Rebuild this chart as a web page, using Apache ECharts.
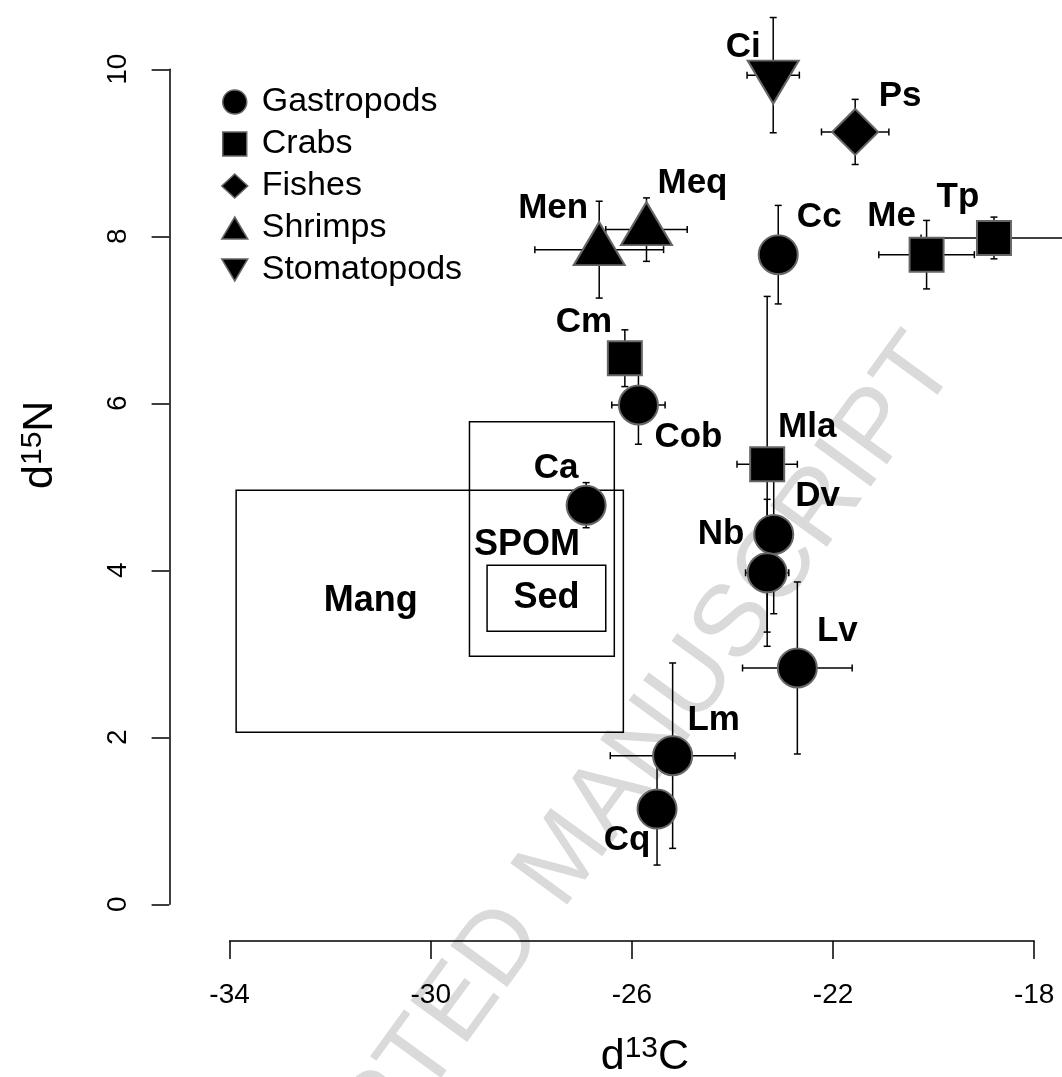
<!DOCTYPE html>
<html><head><meta charset="utf-8">
<script src="https://cdn.jsdelivr.net/npm/echarts@6/dist/echarts.min.js"></script>
<style>html,body{margin:0;padding:0;background:#fff}#c{width:1062px;height:1077px}</style>
</head><body><div id="c"></div>
<script>
// ---------- data ----------
const groups = ['Gastropods', 'Crabs', 'Fishes', 'Shrimps', 'Stomatopods'];
const taxa = ['Ci', 'Ps', 'Cc', 'Me', 'Tp', 'Men', 'Meq', 'Cm', 'Cob', 'Mla', 'Dv', 'Nb', 'Lv', 'Lm', 'Cq', 'Ca'];
const taxonGroup = ['Stomatopods', 'Fishes', 'Gastropods', 'Crabs', 'Crabs', 'Shrimps', 'Shrimps', 'Crabs',
  'Gastropods', 'Crabs', 'Gastropods', 'Gastropods', 'Gastropods', 'Gastropods', 'Gastropods', 'Gastropods'];
const d13C = [-23.19, -21.56, -23.09, -20.14, -18.80, -26.65, -25.71, -26.14, -25.87, -23.31, -23.18, -23.31, -22.71, -25.19, -25.50, -26.91];
const d15N = [9.93, 9.25, 7.78, 7.78, 7.98, 7.84, 8.08, 6.54, 5.98, 5.27, 4.43, 3.97, 2.83, 1.78, 1.14, 4.78];
const sdC  = [0.52, 0.67, 0.25, 0.95, 1.45, 1.28, 0.81, 0.25, 0.53, 0.60, 0.25, 0.43, 1.09, 1.24, 0.20, 0.20];
const sdN  = [0.69, 0.39, 0.59, 0.41, 0.25, 0.58, 0.38, 0.34, 0.47, 2.01, 0.95, 0.88, 1.03, 1.11, 0.67, 0.27];

const sources = ['Mang', 'SPOM', 'Sed'];
const srcCmin = [-33.87, -29.23, -28.88];
const srcCmax = [-26.17, -26.35, -26.52];
const srcNmin = [2.06, 2.97, 3.27];
const srcNmax = [4.96, 5.78, 4.06];

const xTicks = [-34, -30, -26, -22, -18];
const yTicks = [0, 2, 4, 6, 8, 10];

// ---------- styling / layout (not data) ----------
const FONT = '"Liberation Sans", Arial, Helvetica, sans-serif';
const symbolStyle = {
  Gastropods: { symbol: 'circle', symbolSize: 39 },
  Crabs: { symbol: 'rect', symbolSize: 34 },
  Fishes: { symbol: 'diamond', symbolSize: [46, 46] },
  Shrimps: { symbol: 'triangle', symbolSize: [51, 43], symbolOffset: [0, -6] },
  Stomatopods: { symbol: 'triangle', symbolSize: [51, 43], symbolRotate: 180, symbolOffset: [0, 7] }
};
const legendIcon = {
  Gastropods: 'circle',
  Crabs: 'path://M0,0L18,0L18,18L0,18Z',
  Fishes: 'diamond',
  Shrimps: 'path://M13,0L26,22L0,22Z',
  Stomatopods: 'path://M0,0L26,0L13,22Z'
};
const labelOffset = {
  Ci: [-30, -35], Ps: [45, -36], Cc: [41, -37], Me: [-35, -38], Tp: [-36, -41],
  Men: [-46, -35], Meq: [46, -40], Cm: [-41, -36], Cob: [50, 32], Mla: [40, -37],
  Dv: [44, -38], Nb: [-46, -38], Lv: [40, -37], Lm: [41, -35], Cq: [-30, 31], Ca: [-30, -37]
};
const sourceLabelOffset = { Mang: [-59, -10], SPOM: [-15, 6], Sed: [0, 0] };

// ---------- build ----------
const errData = taxa.map((t, i) => [d13C[i], d15N[i], sdC[i], sdN[i]]);
const boxData = sources.map((s, i) => [srcCmin[i], srcCmax[i], srcNmin[i], srcNmax[i]]);

function renderErr(params, api) {
  const x = api.value(0), y = api.value(1), sx = api.value(2), sy = api.value(3);
  const c = api.coord([x, y]);
  const l = api.coord([x - sx, y]), r = api.coord([x + sx, y]);
  const t = api.coord([x, y + sy]), b = api.coord([x, y - sy]);
  const cap = 3.5;
  const st = { stroke: '#000', lineWidth: 1.5 };
  const ln = (x1, y1, x2, y2) => ({ type: 'line', shape: { x1, y1, x2, y2 }, style: st });
  return {
    type: 'group', children: [
      ln(l[0], c[1], r[0], c[1]),
      ln(l[0], c[1] - cap, l[0], c[1] + cap),
      ln(r[0], c[1] - cap, r[0], c[1] + cap),
      ln(c[0], t[1], c[0], b[1]),
      ln(c[0] - cap, t[1], c[0] + cap, t[1]),
      ln(c[0] - cap, b[1], c[0] + cap, b[1])
    ]
  };
}

function renderBox(params, api) {
  const p1 = api.coord([api.value(0), api.value(3)]);
  const p2 = api.coord([api.value(1), api.value(2)]);
  const name = sources[params.dataIndex];
  const off = sourceLabelOffset[name];
  return {
    type: 'group', children: [
      { type: 'rect', shape: { x: p1[0], y: p1[1], width: p2[0] - p1[0], height: p2[1] - p1[1] },
        style: { fill: 'none', stroke: '#000', lineWidth: 1.5 } },
      { type: 'text', x: (p1[0] + p2[0]) / 2 + off[0], y: (p1[1] + p2[1]) / 2 + off[1],
        style: { text: name, fill: '#000', font: 'bold 36px ' + FONT,
          align: 'center', verticalAlign: 'middle', textAlign: 'center', textVerticalAlign: 'middle' } }
    ]
  };
}

const scatterSeries = groups.map(g => {
  const data = [];
  taxa.forEach((t, i) => {
    if (taxonGroup[i] === g) {
      data.push({ name: t, value: [d13C[i], d15N[i]], label: { offset: labelOffset[t] } });
    }
  });
  return Object.assign({
    name: g, type: 'scatter', z: 3, clip: false, data: data,
    itemStyle: { color: '#000', borderColor: '#666', borderWidth: 2, opacity: 1 },
    label: { show: true, position: 'inside', formatter: '{b}', color: '#000',
      fontSize: 35, fontWeight: 'bold', fontFamily: FONT },
    emphasis: { disabled: true }
  }, symbolStyle[g]);
});

const chart = echarts.init(document.getElementById('c'), null, { renderer: 'canvas' });
chart.setOption({
  animation: false,
  backgroundColor: '#fff',
  textStyle: { fontFamily: FONT },
  graphic: {
    elements: [{
      type: 'text', x: 566, y: 858, rotation: 54 * Math.PI / 180, z: -10, silent: true,
      style: { text: 'ACCEPTED MANUSCRIPT', fill: '#dadada', font: '102px ' + FONT,
        align: 'center', verticalAlign: 'middle', textAlign: 'center', textVerticalAlign: 'middle' }
    }]
  },
  grid: { left: 229.6, right: 27.8, top: 69.3, bottom: 172.7, outerBoundsMode: 'none' },
  legend: {
    orient: 'vertical', left: 216, top: 80,
    itemWidth: 26, itemHeight: 24, itemGap: 8,
    data: groups.map(g => ({ name: g, icon: legendIcon[g] })),
    itemStyle: { color: '#000', borderColor: '#666', borderWidth: 1.5 },
    textStyle: { fontSize: 34, lineHeight: 34, color: '#000', fontFamily: FONT, padding: [0, 0, 0, 9] },
    selectedMode: false
  },
  xAxis: {
    type: 'value', min: xTicks[0], max: xTicks[xTicks.length - 1], interval: 4,
    offset: 36.7,
    name: '{a|d}{s|13}{a|C}', nameLocation: 'middle', nameGap: 93,
    nameTextStyle: { padding: [0, 0, 0, 26], rich: {
      a: { fontSize: 43, lineHeight: 46, color: '#000', fontFamily: FONT },
      s: { fontSize: 30, lineHeight: 36, verticalAlign: 'top', color: '#000', fontFamily: FONT } } },
    axisLine: { show: true, onZero: false, lineStyle: { color: '#000', width: 1.5 } },
    axisTick: { show: true, length: 18, lineStyle: { color: '#000', width: 1.5 } },
    axisLabel: { fontSize: 28, color: '#000', margin: 40, fontFamily: FONT },
    splitLine: { show: false }
  },
  yAxis: {
    type: 'value', min: yTicks[0], max: yTicks[yTicks.length - 1], interval: 2,
    offset: 60.3,
    name: '{a|d}{s|15}{a|N}', nameLocation: 'middle', nameGap: 106, nameRotate: 90,
    nameTextStyle: { padding: [0, 0, 0, 84], rich: {
      a: { fontSize: 43, lineHeight: 46, color: '#000', fontFamily: FONT },
      s: { fontSize: 30, lineHeight: 36, verticalAlign: 'top', color: '#000', fontFamily: FONT } } },
    axisLine: { show: true, onZero: false, lineStyle: { color: '#000', width: 1.5 } },
    axisTick: { show: true, length: 17.7, lineStyle: { color: '#000', width: 1.5 } },
    axisLabel: { fontSize: 28, color: '#000', margin: 37, rotate: 90, fontFamily: FONT },
    splitLine: { show: false }
  },
  series: [
    { type: 'custom', name: 'sources', z: 1, renderItem: renderBox, data: boxData,
      encode: { x: [0, 1], y: [2, 3] }, silent: true, clip: false },
    { type: 'custom', name: 'errors', z: 2, renderItem: renderErr, data: errData,
      encode: { x: 0, y: 1 }, silent: true, clip: false }
  ].concat(scatterSeries)
});
</script>
</body></html>
